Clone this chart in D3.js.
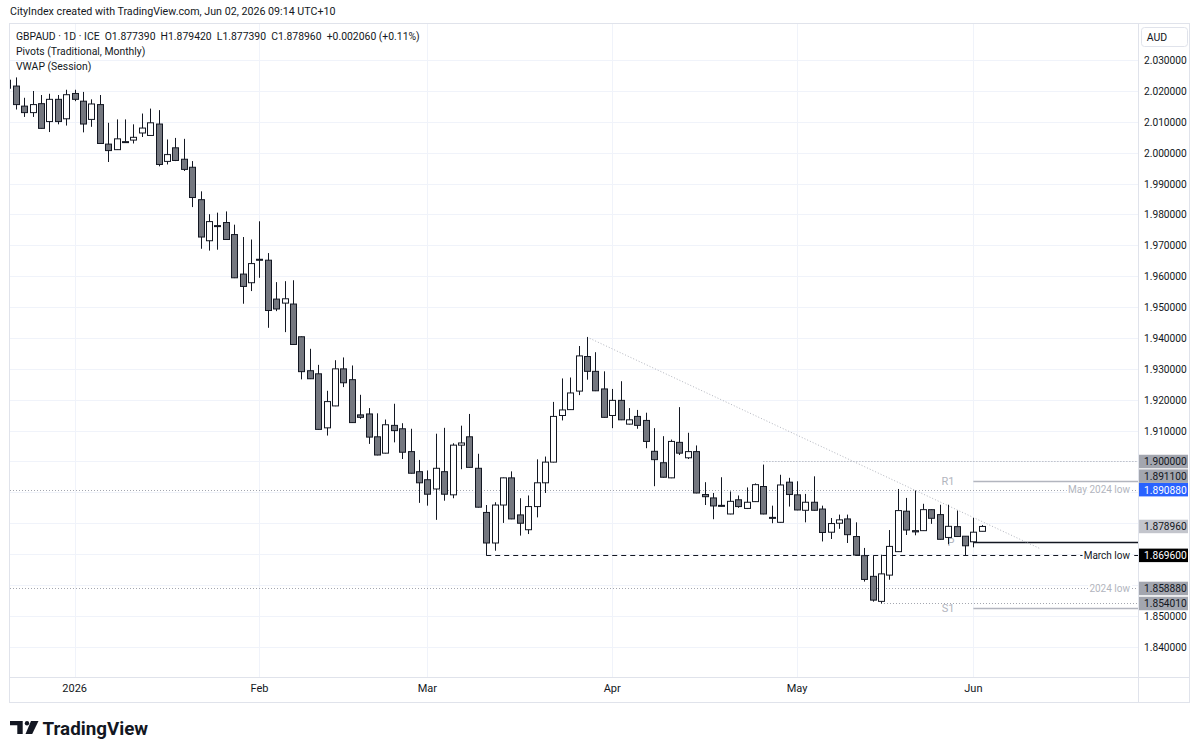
<!DOCTYPE html>
<html>
<head>
<meta charset="utf-8">
<script src="https://cdn.jsdelivr.net/npm/d3@7"></script>
<style>
  body { margin: 0; background: #fff; }
  svg { display: block; font-family: Roboto, "Noto Sans", sans-serif; }
</style>
</head>
<body>
<svg id="chart" width="1200" height="754"></svg>
<script>
// daily GBPAUD bars, first bar 22 Dec 2025, weekdays only
var firstDate = "2025-12-22";
var opens = [2.0235, 2.0216, 2.0151, 2.0130, 2.0159, 2.0101, 2.0173, 2.0110,
  2.0192, 2.0167, 2.0108, 2.0156, 2.0028, 2.0010, 2.0034, 2.0041, 2.0064, 2.0056, 2.0093, 1.9972, 2.0016, 1.9979, 1.9953, 1.9848, 1.9715, 1.9764, 1.9774, 1.9735, 1.9607, 1.9579,
  1.9655, 1.9652, 1.9526, 1.9513, 1.9510, 1.9404, 1.9294, 1.9284, 1.9109, 1.9180, 1.9300, 1.9265, 1.9151, 1.9154, 1.9080, 1.9027, 1.9117, 1.9106, 1.9032, 1.8967,
  1.8941, 1.8911, 1.8967, 1.8892, 1.9053, 1.9080, 1.8978, 1.8835, 1.8736, 1.8859, 1.8947, 1.8827, 1.8779, 1.8854, 1.8931, 1.8998, 1.9149, 1.9168, 1.9228, 1.9340, 1.9292, 1.9235,
  1.9149, 1.9198, 1.9121, 1.9146, 1.9133, 1.9033, 1.8996, 1.8947, 1.9062, 1.9012, 1.9032, 1.8893, 1.8882, 1.8858, 1.8830, 1.8876, 1.8848, 1.8870, 1.8919, 1.8819, 1.8803, 1.8933,
  1.8892, 1.8842, 1.8868, 1.8846, 1.8771, 1.8800, 1.8814, 1.8757, 1.8695, 1.8628, 1.8547, 1.8632, 1.8708, 1.8839, 1.8776, 1.8776, 1.8844, 1.8828, 1.8754, 1.8789, 1.8758,
  1.8740, 1.87739];
var highs = [2.0250, 2.0244, 2.0178, 2.0200, 2.0187, 2.0191, 2.0187, 2.0204,
  2.0204, 2.0197, 2.0173, 2.0187, 2.0097, 2.0108, 2.0108, 2.0092, 2.0127, 2.0143, 2.0138, 2.0043, 2.0048, 2.0045, 1.9973, 1.9875, 1.9801, 1.9806, 1.9810, 1.9767, 1.9727, 1.9719,
  1.9778, 1.9675, 1.9581, 1.9584, 1.9587, 1.9405, 1.9365, 1.9313, 1.9229, 1.9328, 1.9337, 1.9311, 1.9216, 1.9173, 1.9156, 1.9136, 1.9187, 1.9124, 1.9106, 1.9005,
  1.8971, 1.9090, 1.9109, 1.9059, 1.9116, 1.9154, 1.9025, 1.8859, 1.8868, 1.8948, 1.8968, 1.8881, 1.8890, 1.9007, 1.9016, 1.9193, 1.9269, 1.9272, 1.9374, 1.9403, 1.9354, 1.9292,
  1.9235, 1.9260, 1.9173, 1.9167, 1.9158, 1.9108, 1.9082, 1.9071, 1.9176, 1.9093, 1.9052, 1.8933, 1.8898, 1.8949, 1.8903, 1.8890, 1.8916, 1.8929, 1.8990, 1.8857, 1.8957, 1.8947,
  1.8936, 1.8895, 1.8952, 1.8857, 1.8817, 1.8828, 1.8828, 1.8803, 1.8720, 1.8695, 1.8698, 1.8778, 1.8911, 1.8882, 1.8906, 1.8863, 1.8845, 1.8860, 1.8860, 1.8841, 1.8758,
  1.8817, 1.87942];
var lows = [2.0200, 2.0140, 2.0116, 2.0116, 2.0078, 2.0067, 2.0092, 2.0088,
  2.0167, 2.0066, 2.0084, 2.0029, 1.9970, 2.0009, 2.0032, 2.0030, 2.0051, 2.0055, 1.9956, 1.9962, 1.9973, 1.9941, 1.9824, 1.9689, 1.9683, 1.9686, 1.9718, 1.9594, 1.9511, 1.9552,
  1.9595, 1.9433, 1.9487, 1.9419, 1.9378, 1.9266, 1.9267, 1.9103, 1.9084, 1.9179, 1.9241, 1.9125, 1.9138, 1.9057, 1.9020, 1.9026, 1.9062, 1.9008, 1.8961, 1.8866,
  1.8857, 1.8811, 1.8873, 1.8881, 1.8975, 1.8980, 1.8851, 1.8696, 1.8711, 1.8801, 1.8813, 1.8760, 1.8765, 1.8819, 1.8898, 1.8997, 1.9133, 1.9167, 1.9215, 1.9265, 1.9228, 1.9142,
  1.9108, 1.9134, 1.9120, 1.9106, 1.9043, 1.8920, 1.8948, 1.8946, 1.9021, 1.9008, 1.8897, 1.8859, 1.8813, 1.8854, 1.8829, 1.8850, 1.8846, 1.8869, 1.8829, 1.8800, 1.8802, 1.8854,
  1.8842, 1.8803, 1.8841, 1.8741, 1.8749, 1.8782, 1.8736, 1.8696, 1.8611, 1.8546, 1.85401, 1.8617, 1.8707, 1.8762, 1.8761, 1.8775, 1.8798, 1.8747, 1.8732, 1.8756, 1.8697,
  1.8722, 1.87739];
var closes = [2.0209, 2.0156, 2.0130, 2.0156, 2.0079, 2.0173, 2.0101, 2.0188,
  2.0173, 2.0093, 2.0158, 2.0030, 2.0007, 2.0045, 2.0036, 2.0050, 2.0080, 2.0097, 1.9962, 1.9994, 1.9975, 1.9946, 1.9855, 1.9727, 1.9777, 1.9762, 1.9719, 1.9595, 1.9567, 1.9641,
  1.9652, 1.9489, 1.9494, 1.9527, 1.9379, 1.9291, 1.9268, 1.9104, 1.9194, 1.9300, 1.9255, 1.9126, 1.9143, 1.9079, 1.9021, 1.9119, 1.9100, 1.9030, 1.8962, 1.8931,
  1.8894, 1.8978, 1.8894, 1.9053, 1.9060, 1.8981, 1.8852, 1.8736, 1.8859, 1.8947, 1.8814, 1.8800, 1.8854, 1.8931, 1.8998, 1.9146, 1.9167, 1.9222, 1.9342, 1.9292, 1.9229, 1.9143,
  1.9198, 1.9135, 1.9135, 1.9117, 1.9065, 1.9006, 1.8949, 1.9065, 1.9027, 1.9032, 1.8898, 1.8886, 1.8856, 1.8856, 1.8871, 1.8854, 1.8868, 1.8925, 1.8830, 1.8816, 1.8924, 1.8893,
  1.8843, 1.8868, 1.8842, 1.8770, 1.8799, 1.8811, 1.8763, 1.8697, 1.8618, 1.8551, 1.8636, 1.8725, 1.8841, 1.8778, 1.8772, 1.8844, 1.8816, 1.8748, 1.8790, 1.8757, 1.8727,
  1.8771, 1.87896];

var priceTicks = [1.84, 1.85, 1.86, 1.87, 1.88, 1.89, 1.90, 1.91, 1.92, 1.93, 1.94, 1.95, 1.96, 1.97, 1.98, 1.99, 2.00, 2.01, 2.02, 2.03];
var monthNames = ["2026", "Feb", "Mar", "Apr", "May", "Jun"];

// horizontal levels drawn on chart: price, first bar, label
var lineNames = ["May 2024 low", "2024 low", "March low", "", ""];
var linePrices = [1.89088, 1.85888, 1.8696, 1.9000, 1.85401];
var lineStarts = ["2025-12-22", "2025-12-22", "2026-03-11", "2026-04-27", "2026-05-15"];

// June monthly pivots
var pivotNames = ["R1", "P", "S1"];
var pivotPrices = [1.8937, 1.8740, 1.8525];

// trend line from the March high
var trendDates = ["2026-03-27", "2026-06-11"];
var trendPrices = [1.9403, 1.8717];

var tagPrices = [1.900000, 1.891100, 1.890880, 1.878960, 1.869600, 1.858880, 1.854010];
var tagKinds = ["grey", "grey", "blue", "light", "black", "grey", "grey"];

var header = "CityIndex created with TradingView.com, Jun 02, 2026 09:14 UTC+10";
var legendLines = ["GBPAUD \u00b7 1D \u00b7 ICE  O1.877390  H1.879420  L1.877390  C1.878960  +0.002060 (+0.11%)",
  "Pivots (Traditional, Monthly)", "VWAP (Session)"];

// ---- build bars
var parse = d3.utcParse("%Y-%m-%d");
var fmtDay = d3.utcFormat("%Y-%m-%d");
var days = d3.utcDay.range(parse(firstDate), d3.utcDay.offset(parse(firstDate), 200))
  .filter(function (d) { return d.getUTCDay() !== 0 && d.getUTCDay() !== 6; });
var bars = opens.map(function (o, i) {
  return { date: days[i], o: o, h: highs[i], l: lows[i], c: closes[i], i: i };
});
var dayIndex = {};
days.forEach(function (d, i) { dayIndex[fmtDay(d)] = i; });

var pane = { left: 10, right: 1138, top: 24, bottom: 677 };
var axisRight = 1190, axisBottom = 703;

var x = d3.scaleLinear().domain([0.3, 134.6]).range([pane.left, pane.right]);
var y = d3.scaleLinear().domain([1.8302, 2.0417]).range([pane.bottom, pane.top]);

var svg = d3.select("#chart");

// frame
var frame = svg.append("g").attr("stroke", "#e0e3eb").attr("fill", "none");
frame.append("rect").attr("x", pane.left - 0.5).attr("y", pane.top - 0.5)
  .attr("width", axisRight - pane.left).attr("height", axisBottom - pane.top);
frame.append("line").attr("x1", pane.right + 0.5).attr("x2", pane.right + 0.5)
  .attr("y1", pane.top).attr("y2", axisBottom);
frame.append("line").attr("x1", pane.left).attr("x2", axisRight)
  .attr("y1", pane.bottom + 0.5).attr("y2", pane.bottom + 0.5);

svg.append("clipPath").attr("id", "clip").append("rect")
  .attr("x", pane.left).attr("y", pane.top)
  .attr("width", pane.right - pane.left).attr("height", pane.bottom - pane.top);
var plot = svg.append("g").attr("clip-path", "url(#clip)");

// grid
var monthStarts = bars.filter(function (b, i) {
  return i > 0 && b.date.getUTCMonth() !== bars[i - 1].date.getUTCMonth();
});
plot.append("g").selectAll("line").data(priceTicks).join("line")
  .attr("x1", pane.left).attr("x2", pane.right)
  .attr("y1", function (d) { return Math.round(y(d)) + 0.5; })
  .attr("y2", function (d) { return Math.round(y(d)) + 0.5; })
  .attr("stroke", "#f0f3fa");
plot.append("g").selectAll("line").data(monthStarts).join("line")
  .attr("x1", function (d) { return Math.round(x(d.i)) + 0.5; })
  .attr("x2", function (d) { return Math.round(x(d.i)) + 0.5; })
  .attr("y1", pane.top).attr("y2", pane.bottom)
  .attr("stroke", "#f0f3fa");

// levels
var levels = linePrices.map(function (p, k) {
  return { p: p, start: dayIndex[lineStarts[k]], name: lineNames[k], k: k };
});
plot.append("g").selectAll("line").data(levels).join("line")
  .attr("x1", function (d) { return d.start <= 0 ? pane.left : x(d.start); })
  .attr("x2", pane.right)
  .attr("y1", function (d) { return Math.round(y(d.p)) + 0.5; })
  .attr("y2", function (d) { return Math.round(y(d.p)) + 0.5; })
  .attr("stroke", function (d) { return d.name === "March low" ? "#131722" : "#a3a6af"; })
  .attr("stroke-dasharray", function (d) { return d.name === "March low" ? "5,4" : "1,2"; });

// pivots
var pivStart = dayIndex["2026-06-01"];
plot.append("g").selectAll("text").data(pivotPrices).join("text")
  .attr("x", x(pivStart) - 19).attr("y", function (d) { return y(d) + 4; })
  .attr("text-anchor", "end").attr("font-size", 11).attr("fill", "#b2b5be")
  .text(function (d, k) { return pivotNames[k]; });
plot.append("g").selectAll("line").data(pivotPrices).join("line")
  .attr("x1", x(pivStart)).attr("x2", pane.right)
  .attr("y1", function (d) { return Math.round(y(d)) + 0.5; })
  .attr("y2", function (d) { return Math.round(y(d)) + 0.5; })
  .attr("stroke", function (d, k) { return pivotNames[k] === "P" ? "#131722" : "#b2b5be"; })
  .attr("stroke-width", 1.3);

// trend line
plot.append("line")
  .attr("x1", x(dayIndex[trendDates[0]])).attr("y1", y(trendPrices[0]))
  .attr("x2", x(dayIndex[trendDates[1]])).attr("y2", y(trendPrices[1]))
  .attr("stroke", "#b2b5be").attr("stroke-dasharray", "1,2");

// candles
var bodyW = 6;
var candle = plot.append("g").selectAll("g").data(bars).join("g");
candle.append("line")
  .attr("x1", function (d) { return Math.round(x(d.i)) + 0.5; })
  .attr("x2", function (d) { return Math.round(x(d.i)) + 0.5; })
  .attr("y1", function (d) { return y(d.h); })
  .attr("y2", function (d) { return y(d.l); })
  .attr("stroke", "#131722");
candle.append("rect")
  .attr("x", function (d) { return Math.round(x(d.i)) - bodyW / 2 + 0.5; })
  .attr("y", function (d) { return y(Math.max(d.o, d.c)); })
  .attr("width", bodyW)
  .attr("height", function (d) { return Math.max(1, Math.abs(y(d.o) - y(d.c))); })
  .attr("fill", function (d) { return d.c >= d.o ? "#ffffff" : "#74777f"; })
  .attr("stroke", "#131722");

// level labels
var named = levels.filter(function (d) { return d.name; });
plot.append("g").selectAll("text").data(named).join("text")
  .attr("x", pane.right - 8).attr("y", function (d) { return y(d.p) + 3.5; })
  .attr("text-anchor", "end").attr("font-size", 10)
  .attr("fill", function (d) { return d.name === "March low" ? "#131722" : "#b2b5be"; })
  .attr("stroke", "#ffffff").attr("stroke-width", 4).attr("paint-order", "stroke")
  .text(function (d) { return d.name; });

// price tags, pushed apart from the bottom up
var tagH = 13.5;
var tags = tagPrices.map(function (p, k) { return { p: p, kind: tagKinds[k], cy: y(p) }; })
  .sort(function (a, b) { return b.cy - a.cy; });
for (var t = 1; t < tags.length; t++) {
  if (tags[t - 1].cy - tags[t].cy < tagH) tags[t].cy = tags[t - 1].cy - tagH;
}

// price axis labels (those under a tag are hidden, as on the platform)
var shownTicks = priceTicks.filter(function (p) {
  return !tags.some(function (tg) { return Math.abs(y(p) - tg.cy) < 9; });
});
svg.append("g").selectAll("text").data(shownTicks).join("text")
  .attr("x", pane.right + 6).attr("y", function (d) { return y(d) + 4; })
  .attr("font-size", 10.2).attr("fill", "#131722")
  .text(function (d) { return d3.format(".6f")(d); });

// AUD box
svg.append("rect").attr("x", 1141.5).attr("y", 27.5).attr("width", 46).attr("height", 19).attr("rx", 3)
  .attr("fill", "#fff").attr("stroke", "#e0e3eb");
svg.append("text").attr("x", 1157).attr("y", 41).attr("text-anchor", "middle")
  .attr("font-size", 10.5).attr("fill", "#131722").text("AUD");

var tagFill = { grey: "#a3a6af", light: "#c3c5cc", blue: "#2962ff", black: "#000000" };
var tagText = { grey: "#131722", light: "#131722", blue: "#ffffff", black: "#ffffff" };
var tg = svg.append("g").selectAll("g").data(tags).join("g");
tg.append("rect").attr("x", pane.right + 1).attr("y", function (d) { return d.cy - tagH / 2; })
  .attr("width", 49).attr("height", tagH)
  .attr("fill", function (d) { return tagFill[d.kind]; });
tg.append("text").attr("x", pane.right + 6).attr("y", function (d) { return d.cy + 4; })
  .attr("font-size", 10.2).attr("fill", function (d) { return tagText[d.kind]; })
  .text(function (d) { return d3.format(".6f")(d.p); });

// time axis
svg.append("g").selectAll("text").data(monthStarts).join("text")
  .attr("x", function (d) { return x(d.i); }).attr("y", 692)
  .attr("text-anchor", "middle").attr("font-size", 11).attr("fill", "#131722")
  .text(function (d, k) { return monthNames[k]; });

// header + legend
svg.append("text").attr("x", 10).attr("y", 15).attr("font-size", 10.7).attr("fill", "#131722").text(header);
svg.append("g").selectAll("text").data(legendLines).join("text")
  .attr("x", 16).attr("y", function (d, k) { return 40 + k * 15; })
  .attr("font-size", 10.4).attr("fill", "#131722")
  .style("white-space", "pre")
  .text(function (d) { return d; });

// TradingView mark
var logo = svg.append("g").attr("fill", "#131722");
logo.append("path").attr("d", "M10,721H22.7V734H17.3V725.3H10Z");
logo.append("circle").attr("cx", 27).attr("cy", 723.2).attr("r", 2.2);
logo.append("path").attr("d", "M31,721H38.5L32.2,734H25.5Z");
svg.append("text").attr("x", 42.5).attr("y", 734.5).attr("font-size", 18.8).attr("font-weight", 700)
  .attr("fill", "#131722").text("TradingView");
</script>
</body>
</html>
